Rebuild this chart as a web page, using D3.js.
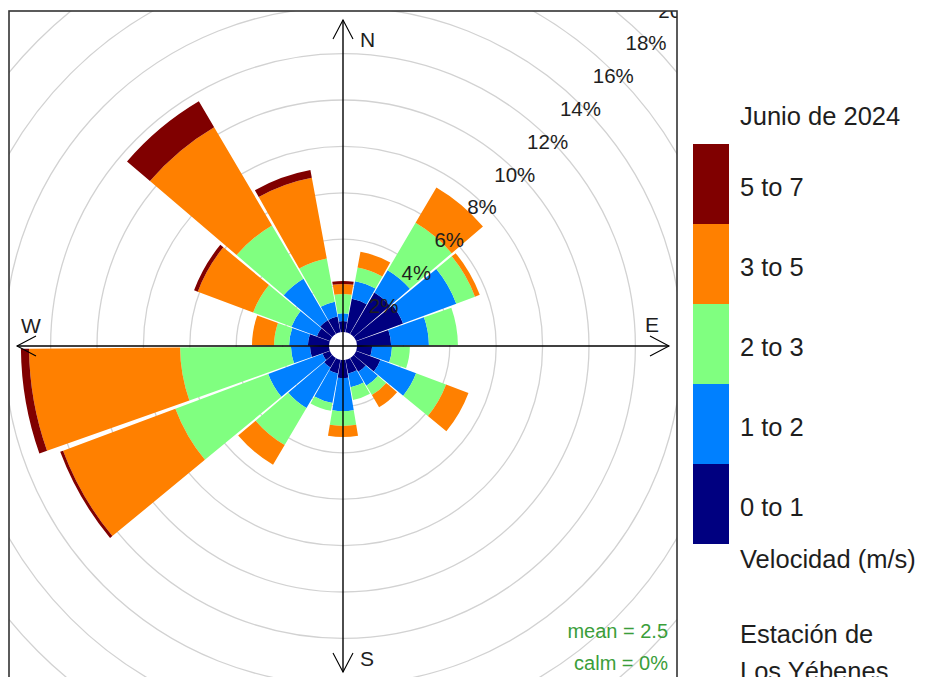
<!DOCTYPE html>
<html>
<head>
<meta charset="utf-8">
<script src="https://cdn.jsdelivr.net/npm/d3@7"></script>
<style>
  body { margin: 0; background: #fff; }
  text { font-family: "Liberation Sans", Arial, sans-serif; }
</style>
</head>
<body>
<svg id="chart" width="926" height="677"></svg>
<script>
// wind direction bins (degrees, centre of 20 degree sector)
let directions = [0, 20, 40, 60, 80, 100, 120, 140, 160, 180, 200, 220, 240, 260, 280, 300, 320, 340]
let speed_bins = ["0 to 1", "1 to 2", "2 to 3", "3 to 5", "5 to 7"]

// frequency (%) per direction for each speed bin
let ws_0_1 = [0.47, 1.47, 2.07, 2.16, 1.47, 0.65, 1.12, 0.69, 0.60, 0.78, 0.60, 0.47, 0.34, 0.82, 0.91, 0.60, 0.69, 0.69]
let ws_1_2 = [0.34, 0.77, 1.12, 2.45, 1.63, 0.86, 1.64, 0.69, 0.60, 1.42, 1.30, 2.03, 2.50, 0.82, 0.81, 1.17, 2.07, 0.65]
let ws_2_3 = [0.83, 0.60, 2.37, 0.86, 1.25, 0.77, 1.38, 0.47, 0.56, 0.64, 0.34, 1.85, 4.27, 4.78, 0.65, 1.76, 2.67, 1.89]
let ws_3_5 = [0.43, 0.69, 1.77, 0.22, 0.00, 0.00, 1.03, 0.61, 0.00, 0.48, 0.00, 0.99, 5.17, 6.51, 0.95, 2.55, 4.91, 3.54]
let ws_5_7 = [0.13, 0.00, 0.00, 0.00, 0.00, 0.00, 0.00, 0.00, 0.00, 0.00, 0.00, 0.00, 0.13, 0.35, 0.00, 0.17, 1.30, 0.34]

let pct_ticks = [2, 4, 6, 8, 10, 12, 14, 16, 18, 20]
let compass = ["N", "E", "S", "W"]
let legend_title = "Junio de 2024"
let legend_key = "Velocidad (m/s)"
let station = ["Estación de", "Los Yébenes"]
let mean_ws = 2.5,
    calm = 0

let colours = ["#000080", "#0080ff", "#80ff80", "#ff8000", "#800000"]

let cx = 343, cy = 346,
    arm = 326,
    frame = {left: 9, top: 11, right: 677, bottom: 681}

let svg = d3.select("#chart")

let r = d3.scaleLinear().domain([0, 20]).range([14, 478])
let fill = d3.scaleOrdinal().domain(speed_bins).range(colours)

let series = [ws_0_1, ws_1_2, ws_2_3, ws_3_5, ws_5_7]
let table = directions.map((wd, i) => {
  let row = {wd: wd}
  speed_bins.forEach((b, j) => row[b] = series[j][i])
  return row
})
let stacked = d3.stack().keys(speed_bins)(table)

svg.append("clipPath").attr("id", "panel")
  .append("rect")
  .attr("x", frame.left).attr("y", frame.top)
  .attr("width", frame.right - frame.left)
  .attr("height", frame.bottom - frame.top)

let plot = svg.append("g").attr("clip-path", "url(#panel)")
let rose = plot.append("g").attr("transform", `translate(${cx},${cy})`)

// grid circles
rose.append("g").selectAll("circle")
  .data(pct_ticks).enter()
  .append("circle")
  .attr("r", d => r(d))
  .attr("fill", "none")
  .attr("stroke", "#d2d2d2")
  .attr("stroke-width", 1.3)

// wedges
let half = 9.5 * Math.PI / 180
let arc = d3.arc()
  .innerRadius(d => r(d[0]))
  .outerRadius(d => r(d[1]))
  .startAngle(d => d.data.wd * Math.PI / 180 - half)
  .endAngle(d => d.data.wd * Math.PI / 180 + half)

rose.append("g").selectAll("g")
  .data(stacked).enter()
  .append("g")
  .attr("fill", d => fill(d.key))
  .selectAll("path")
  .data(d => d.filter(s => s[1] - s[0] > 0)).enter()
  .append("path")
  .attr("d", arc)

// axes with open arrow heads
let dirs = [[0, -1], [1, 0], [0, 1], [-1, 0]]
let axes = rose.append("g").attr("stroke", "#000").attr("fill", "none")
axes.append("line").attr("x1", 0).attr("y1", -arm).attr("x2", 0).attr("y2", arm).attr("stroke-width", 1.4)
axes.append("line").attr("x1", -arm).attr("y1", 0).attr("x2", arm).attr("y2", 0).attr("stroke-width", 1.4)
axes.selectAll("path.head")
  .data(dirs).enter()
  .append("path")
  .attr("class", "head")
  .attr("stroke-width", 1.1)
  .attr("d", d => {
    let tx = d[0] * arm, ty = d[1] * arm,
        bx = -d[0] * 19, by = -d[1] * 19,
        px = -d[1] * 10, py = d[0] * 10
    return `M${tx + bx + px},${ty + by + py}L${tx},${ty}L${tx + bx - px},${ty + by - py}`
  })

// compass labels
let label_pos = {
  N: [17, -arm + 27],
  E: [arm - 24, -14],
  S: [17, arm - 6],
  W: [-arm + 4, -13]
}
rose.append("g").selectAll("text")
  .data(compass).enter()
  .append("text")
  .attr("x", d => label_pos[d][0])
  .attr("y", d => label_pos[d][1])
  .attr("font-size", 21)
  .attr("fill", "#1e1e1e")
  .text(d => d)

// percentage labels along 45 degrees
let c45 = Math.SQRT1_2
rose.append("g").selectAll("text")
  .data(pct_ticks).enter()
  .append("text")
  .attr("x", d => (r(d) - 3) * c45)
  .attr("y", d => -(r(d) - 3) * c45)
  .attr("text-anchor", "middle")
  .attr("dominant-baseline", "central")
  .attr("font-size", 20.5)
  .attr("fill", "#1e1e1e")
  .text(d => d + "%")

// mean / calm
plot.append("text")
  .attr("x", frame.right - 9).attr("y", 638)
  .attr("text-anchor", "end").attr("font-size", 20).attr("fill", "#3a9e3a")
  .text("mean = " + mean_ws)
plot.append("text")
  .attr("x", frame.right - 9).attr("y", 670)
  .attr("text-anchor", "end").attr("font-size", 20).attr("fill", "#3a9e3a")
  .text("calm = " + calm + "%")

// panel border
svg.append("rect")
  .attr("x", frame.left).attr("y", frame.top)
  .attr("width", frame.right - frame.left)
  .attr("height", frame.bottom - frame.top)
  .attr("fill", "none")
  .attr("stroke", "#333")
  .attr("stroke-width", 1.6)

// legend
let key = svg.append("g")
let band = d3.scaleBand().domain(speed_bins.slice().reverse()).range([144, 544])

key.append("text")
  .attr("x", 740).attr("y", 125)
  .attr("font-size", 25.5).attr("fill", "#1e1e1e")
  .text(legend_title)

key.selectAll("rect")
  .data(band.domain()).enter()
  .append("rect")
  .attr("x", 693).attr("y", d => band(d))
  .attr("width", 36).attr("height", band.bandwidth())
  .attr("fill", d => fill(d))

key.selectAll("text.bin")
  .data(band.domain()).enter()
  .append("text")
  .attr("class", "bin")
  .attr("x", 740)
  .attr("y", d => band(d) + band.bandwidth() / 2 + 12)
  .attr("font-size", 25.5).attr("fill", "#1e1e1e")
  .text(d => d)

key.append("text")
  .attr("x", 740).attr("y", 568)
  .attr("font-size", 25.5).attr("fill", "#1e1e1e")
  .text(legend_key)

key.selectAll("text.station")
  .data(station).enter()
  .append("text")
  .attr("class", "station")
  .attr("x", 740).attr("y", (d, i) => 643 + i * 37)
  .attr("font-size", 25.5).attr("fill", "#1e1e1e")
  .text(d => d)
</script>
</body>
</html>
